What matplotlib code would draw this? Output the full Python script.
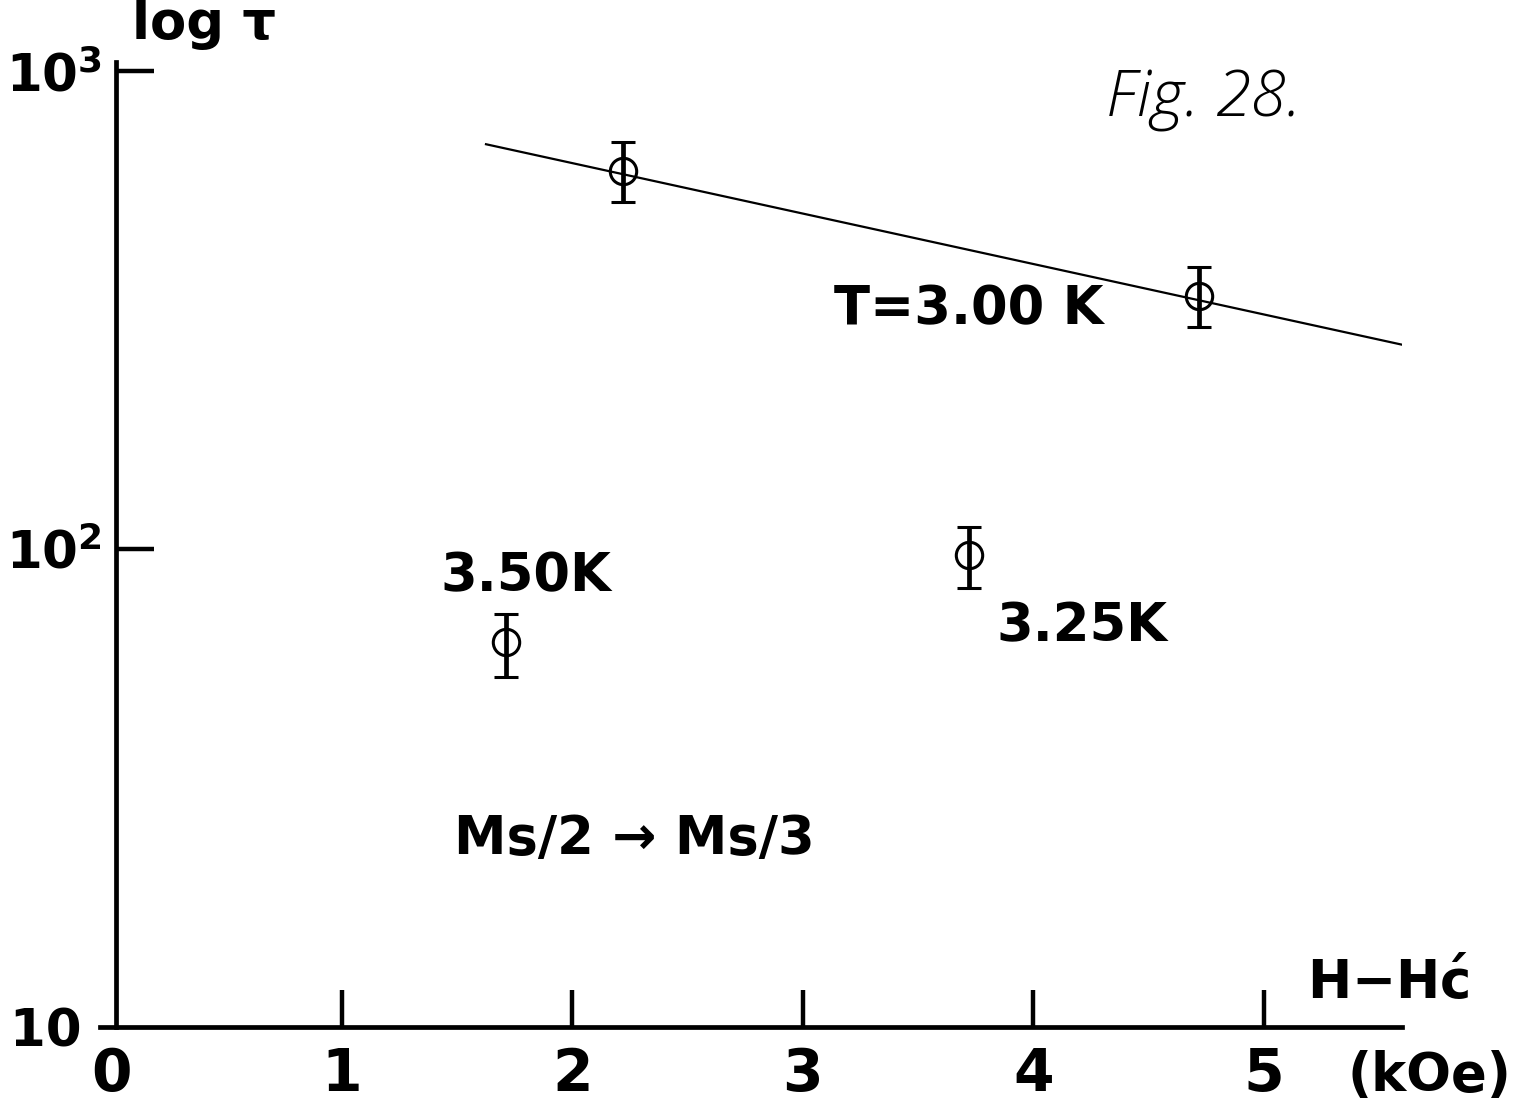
import numpy as np
import matplotlib
matplotlib.use("Agg")
import matplotlib.pyplot as plt

plt.rcParams['font.family'] = 'DejaVu Sans'
plt.rcParams['font.weight'] = 'bold'
plt.rcParams['mathtext.default'] = 'regular'
plt.rcParams['xtick.direction'] = 'in'
plt.rcParams['ytick.direction'] = 'in'

# data (H - H'c in kOe, tau)
field = [2.22, 4.72, 3.72, 1.71]
tau = [618, 338, 97, 64]
tau_hi = [710, 389, 111, 73]
tau_lo = [532, 291, 83, 54]
fit_x = [1.625, 5.61]
fit_y = [703, 267]
xticks = [0, 1, 2, 3, 4, 5]
yticks = [10, 100, 1000]
ytick_labels = ['10\u2009\u2009', '$10^2$', '$10^3$']

fig = plt.figure(figsize=(15.19, 11.18), dpi=100)
ax = fig.add_axes([100 / 1519, 91 / 1118, 1302 / 1519, 965 / 1118])
ax.set_yscale('log')
ax.set_xlim(-0.05, 5.6)
ax.set_ylim(10, 10 ** 3.019)

for s in ['top', 'right']:
    ax.spines[s].set_visible(False)
ax.spines['left'].set_position(('data', 0.02))
ax.spines['left'].set_linewidth(3.4)
ax.spines['bottom'].set_linewidth(3.4)

ax.set_xticks(xticks)
ax.set_xticklabels([str(t) for t in xticks])
ax.set_yticks(yticks)
ax.set_yticklabels(ytick_labels)
ax.minorticks_off()
ax.tick_params(axis='x', length=27, width=3.2, pad=14, labelsize=42)
ax.tick_params(axis='y', length=27, width=3.2, pad=10, labelsize=37)
ax.xaxis.get_major_ticks()[0].tick1line.set_visible(False)
ax.yaxis.get_major_ticks()[0].tick1line.set_visible(False)

# fitted line for T = 3.00 K
ax.plot(fit_x, fit_y, color='black', lw=1.6)

err = [np.array(tau) - np.array(tau_lo), np.array(tau_hi) - np.array(tau)]
ax.errorbar(field, tau, yerr=err, fmt='o', mfc='none', mec='black', mew=2.2,
            ms=19, ecolor='black', elinewidth=3.4, capsize=8.5, capthick=4)

txt = dict(fontsize=38, ha='center', va='center')
ax.text(3.72, 318, 'T=3.00 K', **txt)
ax.text(1.80, 87.5, '3.50K', **txt)
ax.text(4.21, 68.8, '3.25K', **txt)
ax.text(2.27, 24.7, 'Ms/2 → Ms/3', **txt)
ax.text(5.54, 12.3, r'H$-$H$\acute{c}$', **txt)
ax.text(5.72, 7.9, '(kOe)', clip_on=False, **txt)
ax.text(0.40, 1254, 'log τ', clip_on=False, **txt)
ax.text(4.74, 874, 'Fig. 28.', fontsize=46, ha='center', va='center',
        family=['Open Sans', 'DejaVu Sans'], fontweight='light', style='italic')

fig.savefig('out.png', dpi=100, facecolor='white')
